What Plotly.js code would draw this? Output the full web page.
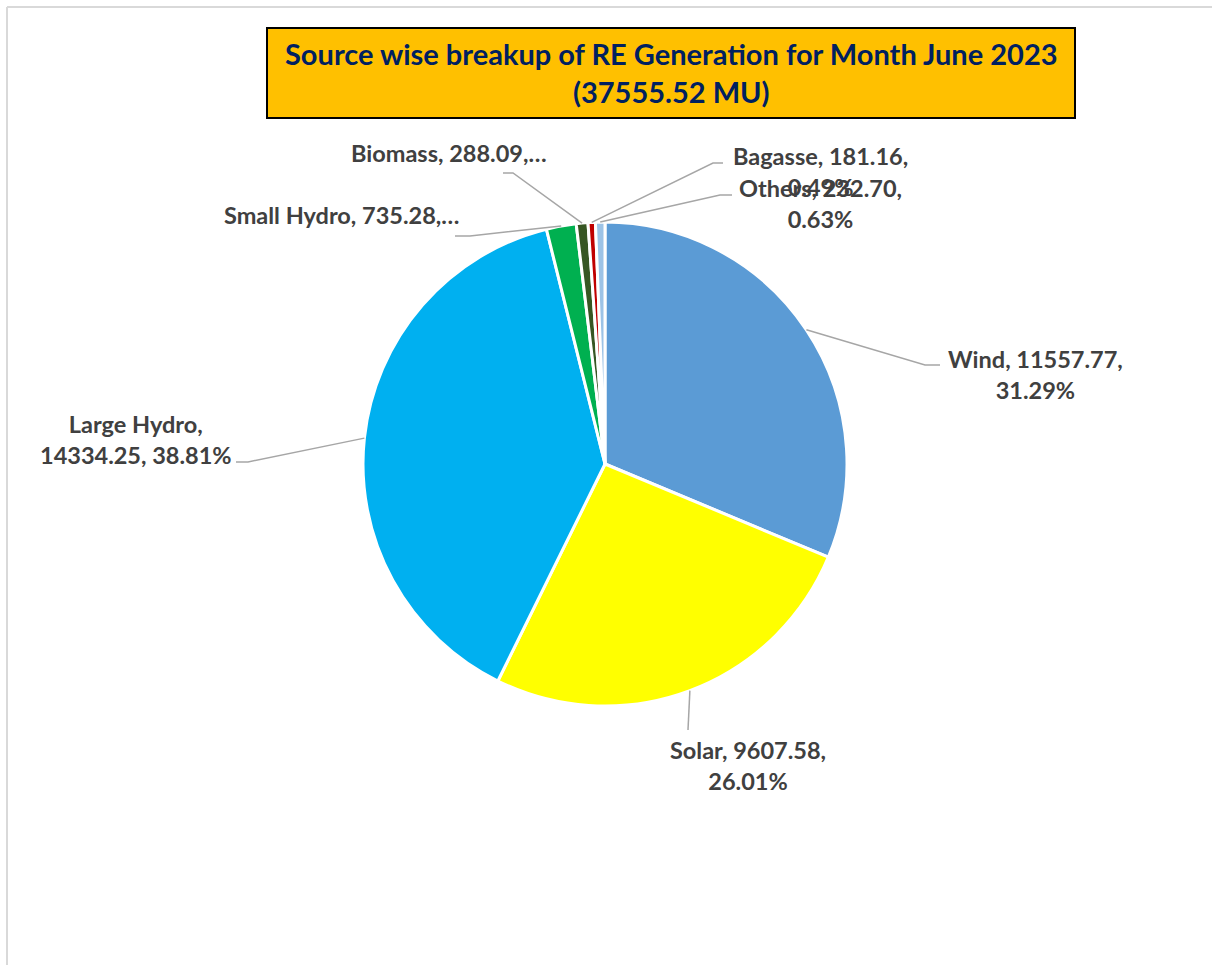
<!DOCTYPE html>
<html>
<head>
<meta charset="utf-8">
<script src="https://cdn.plot.ly/plotly-3.0.1.min.js"></script>
<style>html,body{margin:0;padding:0;background:#fff;}#chart{width:1212px;height:965px;}</style>
</head>
<body>
<div id="chart"></div>
<script>
// ---- data ----
const sources = ["Wind", "Solar", "Large Hydro", "Small Hydro", "Biomass", "Bagasse", "Others"];
const generationMU = [11557.77, 9607.58, 14334.25, 735.28, 288.09, 181.16, 232.70];
const sliceColors = ["#5B9BD5", "#FFFF00", "#00B0F0", "#00B050", "#375623", "#C00000", "#9DC3E6"];
const titleText = "Source wise breakup of RE Generation for Month June 2023<br>(37555.52 MU)";

// ---- layout helpers ----
const W = 1212, H = 965;
const cx = 605, cy = 464, R = 242;
const px = x => x / W;
const py = y => 1 - y / H;

const total = generationMU.reduce((a, b) => a + b, 0);
const pcts = generationMU.map(v => (v / total * 100).toFixed(2) + "%");

// label styles: break mode, label center, elbow, line end
const labelCfg = [
  {mode: "nl2", lx: 1035, ly: 374, elbow: [925, 365], end: [940, 365]},
  {mode: "nl2", lx: 748, ly: 765, elbow: [688, 730], end: [688, 730]},
  {mode: "nl1", lx: 136, ly: 439, elbow: [248, 462], end: [236, 462]},
  {mode: "trunc", lx: 341, ly: 215, elbow: [470, 236], end: [455, 236]},
  {mode: "trunc", lx: 449, ly: 153, elbow: [513, 173], end: [503, 173]},
  {mode: "nl2", lx: 820, ly: 171, elbow: [713, 163], end: [723, 163]},
  {mode: "nl2", lx: 820, ly: 203, elbow: [720, 195], end: [732, 195]}
];

function labelText(i) {
  const n = sources[i], v = generationMU[i].toFixed(2), p = pcts[i];
  const m = labelCfg[i].mode;
  if (m === "nl2") return n + ", " + v + ",<br>" + p;
  if (m === "nl1") return n + ",<br>" + v + ", " + p;
  return n + ", " + v + ",…";
}

const shapes = [];
const annotations = [];
let cum = 0;
generationMU.forEach((v, i) => {
  const frac = v / total;
  const mid = (cum + frac / 2) * 2 * Math.PI;
  cum += frac;
  const ex = cx + R * Math.sin(mid);
  const ey = cy - R * Math.cos(mid);
  const c = labelCfg[i];
  shapes.push({
    type: "path", xref: "paper", yref: "paper",
    path: `M ${px(ex)} ${py(ey)} L ${px(c.elbow[0])} ${py(c.elbow[1])} L ${px(c.end[0])} ${py(c.end[1])}`,
    line: {color: "#A6A6A6", width: 1.5}
  });
  annotations.push({
    xref: "paper", yref: "paper", x: px(c.lx), y: py(c.ly),
    xanchor: "center", yanchor: "middle", showarrow: false,
    text: "<b>" + labelText(i) + "</b>", align: "center",
    font: {family: "Lato, 'Open Sans', sans-serif", size: 23.5, color: "#404040"}
  });
});

// outer frame
shapes.push({type: "line", xref: "paper", yref: "paper", x0: px(7), y0: py(7), x1: px(1212), y1: py(7), line: {color: "#D9D9D9", width: 2}});
shapes.push({type: "line", xref: "paper", yref: "paper", x0: px(7), y0: py(7), x1: px(7), y1: py(965), line: {color: "#D9D9D9", width: 2}});
// title box
shapes.push({type: "rect", xref: "paper", yref: "paper", x0: px(267), y0: py(28), x1: px(1075), y1: py(118),
  fillcolor: "#FFC000", line: {color: "#000000", width: 2}, layer: "below"});

annotations.push({
  xref: "paper", yref: "paper", x: px(671), y: py(73), xanchor: "center", yanchor: "middle",
  showarrow: false, align: "center",
  text: "<b>" + titleText + "</b>",
  font: {family: "Lato, 'Open Sans', sans-serif", size: 29, color: "#002060"}
});

const trace = {
  type: "pie",
  labels: sources,
  values: generationMU,
  sort: false,
  direction: "clockwise",
  rotation: 0,
  textinfo: "none",
  hoverinfo: "label+value+percent",
  marker: {colors: sliceColors, line: {color: "#FFFFFF", width: 3}},
  domain: {x: [px(cx - R), px(cx + R)], y: [py(cy + R), py(cy - R)]}
};

const layout = {
  width: W, height: H,
  margin: {l: 0, r: 0, t: 0, b: 0},
  paper_bgcolor: "#FFFFFF",
  showlegend: false,
  shapes: shapes,
  annotations: annotations
};

Plotly.newPlot("chart", [trace], layout, {displayModeBar: false, staticPlot: true});
</script>
</body>
</html>
